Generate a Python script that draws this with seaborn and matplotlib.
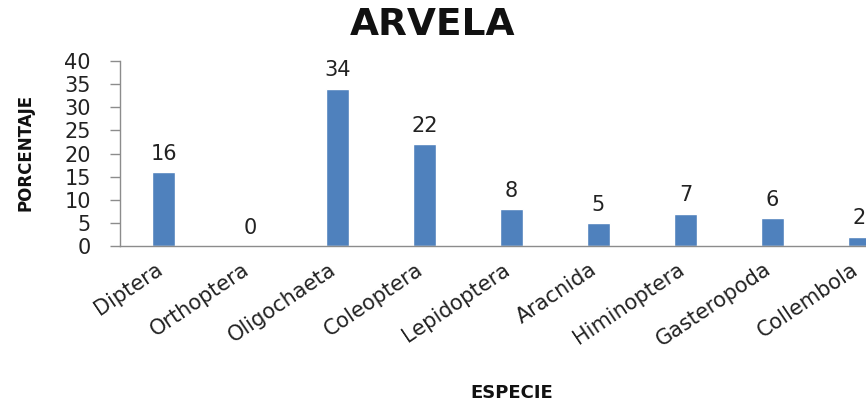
import matplotlib
matplotlib.use("Agg")
import matplotlib.pyplot as plt
import seaborn as sns
import pandas as pd

especies = ["Diptera", "Orthoptera", "Oligochaeta", "Coleoptera", "Lepidoptera",
            "Aracnida", "Himinoptera", "Gasteropoda", "Collembola"]
porcentajes = [16, 0, 34, 22, 8, 5, 7, 6, 2]
yticks = [0, 5, 10, 15, 20, 25, 30, 35, 40]

df = pd.DataFrame({"especie": especies, "porcentaje": porcentajes})

sns.set_theme(style="white")
plt.rcParams["font.family"] = ["DejaVu Sans"]

fig = plt.figure(figsize=(8.66, 4.04), dpi=100)
ax = fig.add_axes([0.1386, 0.391, 0.904, 0.458])

sns.barplot(data=df, x="especie", y="porcentaje", color="#4F81BD",
            width=0.27, saturation=1, ax=ax)

for patch, val in zip(ax.patches, porcentajes):
    ax.annotate(f"{val}", (patch.get_x() + patch.get_width() / 2, val),
                xytext=(0, 6), textcoords="offset points",
                ha="center", va="bottom", fontsize=15, color="#222222")

ax.set_ylim(0, 40)
ax.set_yticks(yticks)
ax.set_yticklabels([str(t) for t in yticks], fontsize=15, color="#222222")
ax.set_xlim(-0.5, len(especies) - 0.5)
ax.set_xticks(range(len(especies)))
ax.set_xticklabels(especies, rotation=34, ha="right", va="baseline",
                   rotation_mode="anchor", fontsize=15, color="#222222")

for side in ["top", "right"]:
    ax.spines[side].set_visible(False)
for side in ["left", "bottom"]:
    ax.spines[side].set_color("#8c8c8c")
    ax.spines[side].set_linewidth(1.0)

ax.tick_params(axis="y", which="major", left=True, length=7, width=1,
               color="#8c8c8c", pad=14)
ax.tick_params(axis="x", which="major", bottom=False, pad=13)

ax.set_xlabel("")
ax.set_ylabel("")
fig.text(0.5, 0.938, "ARVELA", ha="center", va="center",
         fontsize=27, fontweight="bold", color="#111111")
fig.text(0.591, 0.005, "ESPECIE", ha="center", va="bottom",
         fontsize=13, fontweight="bold", color="#111111")
fig.text(0.029, 0.623, "PORCENTAJE", ha="center", va="center", rotation=90,
         fontsize=12, fontweight="bold", color="#111111")

fig.savefig("out.png", dpi=100)
